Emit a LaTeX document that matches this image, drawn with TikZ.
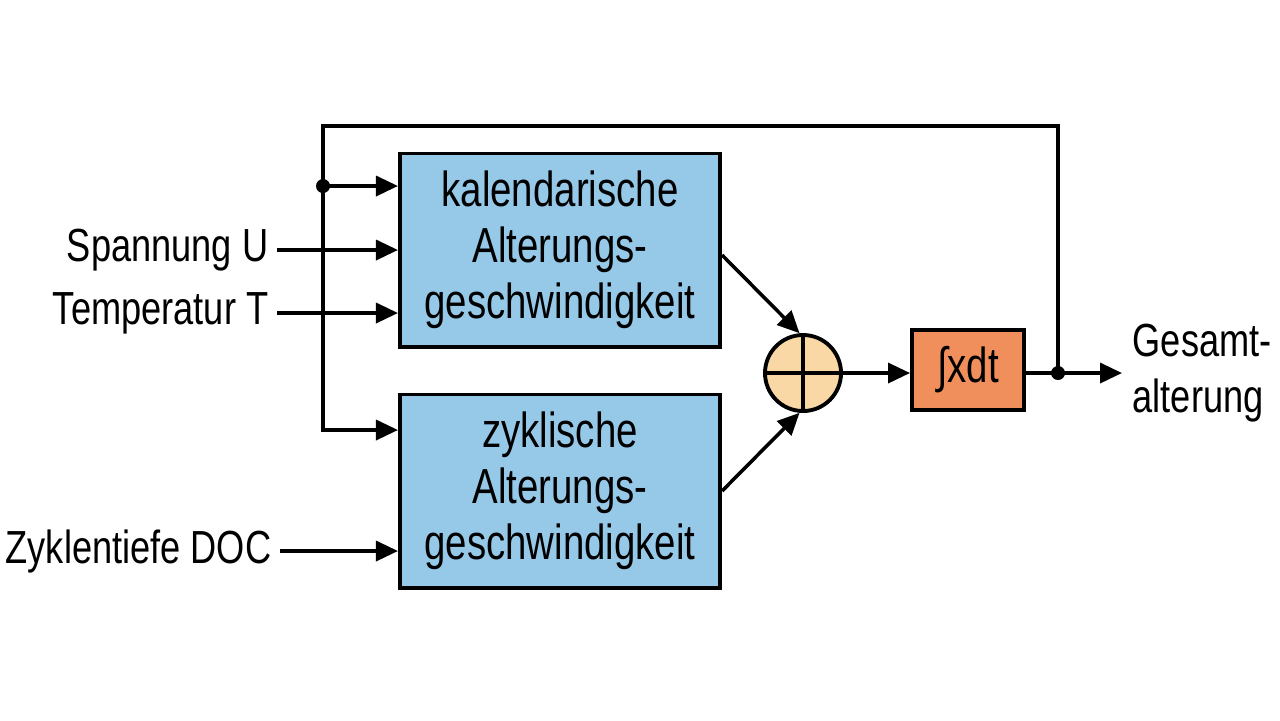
\documentclass[tikz,border=0pt]{standalone}
\usepackage{fontspec}
\setmainfont[FakeStretch=0.78]{Liberation Sans}
\usepackage{xcolor}
\usetikzlibrary{arrows.meta, positioning, calc}

\definecolor{boxblue}{RGB}{150,200,232}
\definecolor{intorange}{RGB}{240,142,92}
\definecolor{sumfill}{RGB}{250,216,165}

\tikzset{
  block/.style={draw, line width=1.1pt, fill=boxblue, minimum width=3.2cm,
    minimum height=1.93cm, align=center, font=\fontsize{14}{15.9}\selectfont},
  intblock/.style={draw, line width=1.1pt, fill=intorange, minimum width=1.12cm,
    minimum height=0.8cm, font=\fontsize{14}{15.9}\selectfont},
  sumnode/.style={draw, line width=1.1pt, fill=sumfill, circle, minimum size=0.76cm, inner sep=0pt},
  inlabel/.style={anchor=east, inner sep=0.08cm, font=\fontsize{13.2}{15.9}\selectfont},
  sig/.style={line width=1pt, -{Triangle[length=0.22cm,width=0.2cm]}},
  wire/.style={line width=1pt},
  junction/.style={fill, circle, inner sep=0pt, minimum size=0.14cm}
}

\begin{document}
\begin{tikzpicture}[x=0.01cm, y=-0.01cm]
  \useasboundingbox[fill=white] (0,0) rectangle (1280,720);

  % blocks
  \node[block] (kal) at (560,250) {kalendarische\\Alterungs-\\geschwindigkeit};
  \node[block] (zyk) at (560,491) {zyklische\\Alterungs-\\geschwindigkeit};
  \node[sumnode] (sum) at (803,373) {};
  \draw[line width=1.1pt] (sum.north) -- (sum.south) (sum.west) -- (sum.east);
  \node[intblock] (integ) at (968,370) {∫xdt};

  % inputs
  \node[inlabel] (spU) at (277,250) {Spannung U};
  \node[inlabel] (temp) at (277,313) {Temperatur T};
  \node[inlabel] (doc) at (280,551) {Zyklentiefe DOC};
  \draw[sig] (spU.east) -- (kal.west |- spU.east);
  \draw[sig] (temp.east) -- (kal.west |- temp.east);
  \draw[sig] (doc.east) -- (zyk.west |- doc.east);

  % summation and integration
  \draw[sig] (kal.east) ++(0,5) -- (sum.95);
  \draw[sig] (zyk.east) -- (sum.265);
  \draw[sig] (sum.east) -- (integ.west |- sum.east);

  % output and feedback
  \coordinate (fb) at (1058,373);
  \coordinate (top) at (323,126);
  \coordinate (split) at (323,186);
  \node[anchor=west, align=left, inner sep=0pt, font=\fontsize{13.2}{15.9}\selectfont]
    (out) at (1132,373) {Gesamt-\\alterung};
  \draw[wire] (integ.east |- fb) -- (fb);
  \draw[sig] (fb) -- (1122,373);
  \draw[wire] (fb) |- (top) -- (split);
  \draw[sig] (split) -- (323,430) -- (zyk.west |- 0,430);
  \draw[sig] (split) -- (kal.west |- split);
  \node[junction] at (fb) {};
  \node[junction] at (split) {};
\end{tikzpicture}
\end{document}
